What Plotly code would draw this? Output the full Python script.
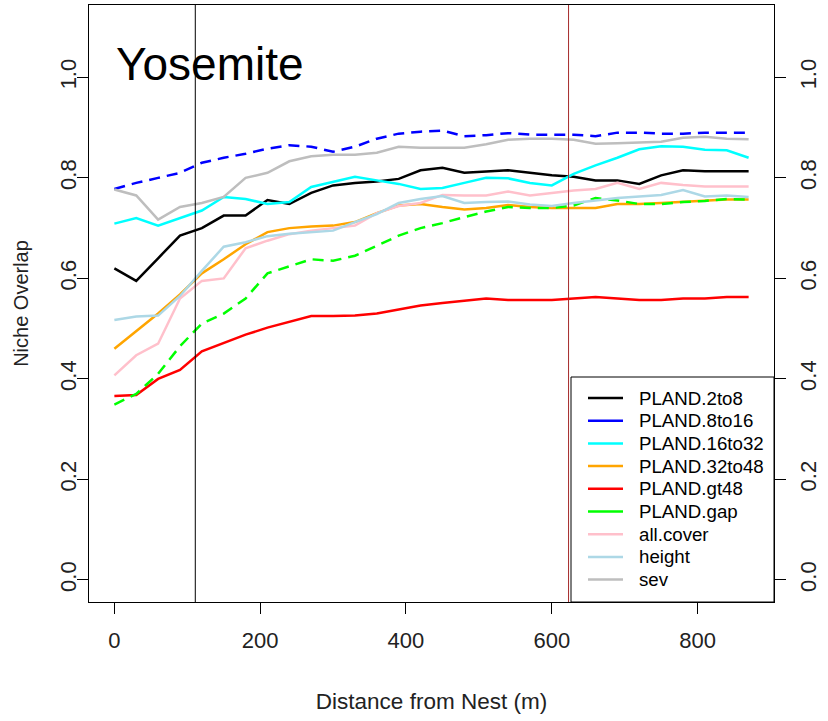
import plotly.graph_objects as go

# ---------------- data ----------------
distance = [0, 30, 60, 90, 120, 150, 180, 210, 240, 270, 300, 330, 360, 390, 420,
            450, 480, 510, 540, 570, 600, 630, 660, 690, 720, 750, 780, 810, 840, 870]

pland_2to8 = [0.620, 0.595, 0.640, 0.685, 0.700, 0.725, 0.725, 0.756, 0.748, 0.770,
              0.785, 0.790, 0.793, 0.798, 0.815, 0.820, 0.810, 0.812, 0.815, 0.810,
              0.805, 0.802, 0.795, 0.795, 0.788, 0.805, 0.815, 0.813, 0.813, 0.813]
pland_8to16 = [0.778, 0.790, 0.800, 0.810, 0.830, 0.840, 0.848, 0.858, 0.865, 0.862,
               0.852, 0.862, 0.878, 0.888, 0.892, 0.894, 0.883, 0.885, 0.889, 0.886,
               0.886, 0.886, 0.883, 0.890, 0.890, 0.888, 0.888, 0.890, 0.890, 0.890]
pland_16to32 = [0.709, 0.720, 0.705, 0.720, 0.735, 0.762, 0.758, 0.748, 0.752, 0.782,
                0.792, 0.802, 0.795, 0.788, 0.778, 0.780, 0.790, 0.800, 0.799, 0.790,
                0.785, 0.808, 0.825, 0.840, 0.857, 0.863, 0.862, 0.856, 0.855, 0.840]
pland_32to48 = [0.460, 0.495, 0.530, 0.568, 0.610, 0.638, 0.668, 0.692, 0.700, 0.703,
                0.705, 0.712, 0.730, 0.745, 0.748, 0.742, 0.737, 0.740, 0.746, 0.742,
                0.740, 0.740, 0.740, 0.748, 0.748, 0.750, 0.752, 0.755, 0.757, 0.757]
pland_gt48 = [0.366, 0.368, 0.400, 0.418, 0.455, 0.472, 0.488, 0.502, 0.513, 0.525,
              0.525, 0.526, 0.530, 0.538, 0.546, 0.551, 0.555, 0.560, 0.557, 0.557,
              0.557, 0.560, 0.563, 0.560, 0.557, 0.557, 0.560, 0.560, 0.563, 0.563]
pland_gap = [0.349, 0.370, 0.410, 0.465, 0.510, 0.530, 0.560, 0.610, 0.624, 0.638,
             0.635, 0.645, 0.665, 0.685, 0.700, 0.710, 0.722, 0.733, 0.742, 0.740,
             0.740, 0.745, 0.760, 0.755, 0.748, 0.748, 0.752, 0.754, 0.758, 0.757]
all_cover = [0.407, 0.447, 0.470, 0.560, 0.595, 0.600, 0.660, 0.675, 0.688, 0.695,
             0.700, 0.705, 0.730, 0.744, 0.750, 0.766, 0.765, 0.765, 0.773, 0.765,
             0.770, 0.775, 0.778, 0.790, 0.778, 0.790, 0.786, 0.783, 0.783, 0.783]
height = [0.517, 0.524, 0.526, 0.565, 0.615, 0.663, 0.672, 0.684, 0.689, 0.692,
          0.695, 0.712, 0.728, 0.750, 0.758, 0.764, 0.750, 0.752, 0.753, 0.747,
          0.744, 0.750, 0.755, 0.760, 0.763, 0.766, 0.776, 0.763, 0.765, 0.762]
sev = [0.777, 0.765, 0.717, 0.742, 0.750, 0.762, 0.800, 0.810, 0.833, 0.843,
       0.846, 0.846, 0.850, 0.862, 0.860, 0.860, 0.860, 0.867, 0.876, 0.878,
       0.878, 0.876, 0.868, 0.869, 0.870, 0.872, 0.880, 0.882, 0.878, 0.877]

series_names = ["PLAND.2to8", "PLAND.8to16", "PLAND.16to32", "PLAND.32to48",
                "PLAND.gt48", "PLAND.gap", "all.cover", "height", "sev"]
series_values = [pland_2to8, pland_8to16, pland_16to32, pland_32to48,
                 pland_gt48, pland_gap, all_cover, height, sev]
series_colors = ["#000000", "#0000FF", "#00FFFF", "#FFA500", "#FF0000",
                 "#00FF00", "#FFC0CB", "#ADD8E6", "#BEBEBE"]
series_dash = ["solid", "11px,7px", "solid", "solid", "solid",
               "11px,7px", "solid", "solid", "solid"]

vline_black = 111
vline_red = 623

y_ticks = [0.0, 0.2, 0.4, 0.6, 0.8, 1.0]
y_tick_labels = ["0.0", "0.2", "0.4", "0.6", "0.8", "1.0"]
x_ticks = [0, 200, 400, 600, 800]
x_tick_labels = ["0", "200", "400", "600", "800"]

# ---------------- figure ----------------
W, H = 828, 721
L, R, T, B = 89, 774, 5, 602  # plot area in pixels
FONT = "Liberation Sans, Arial, sans-serif"

fig = go.Figure()
for name, vals, col, dash in zip(series_names, series_values, series_colors, series_dash):
    fig.add_trace(go.Scatter(x=distance, y=vals, mode="lines", name=name,
                             line=dict(color=col, width=2.5, dash=dash),
                             showlegend=False, hoverinfo="skip"))

# invisible trace for right axis
fig.add_trace(go.Scatter(x=[None], y=[None], yaxis="y2", showlegend=False))


def px(xp):
    return (xp - L) / (R - L)


def py(yp):
    return (B - yp) / (B - T)


shapes = [
    dict(type="line", xref="x", yref="paper", x0=vline_black, x1=vline_black, y0=0, y1=1,
         line=dict(color="black", width=1), layer="above"),
    dict(type="line", xref="x", yref="paper", x0=vline_red, x1=vline_red, y0=0, y1=1,
         line=dict(color="#A52A2A", width=1), layer="above"),
    # legend box
    dict(type="rect", xref="paper", yref="paper", x0=px(571), x1=px(774), y0=0, y1=py(377),
         fillcolor="white", line=dict(color="black", width=1), layer="above"),
]
annotations = [
    dict(text="Yosemite", xref="paper", yref="paper", x=px(114), y=py(64),
         xanchor="left", yanchor="middle", showarrow=False,
         font=dict(family=FONT, size=46, color="black")),
]
row0, step = 398, 22.7
for i, (name, col) in enumerate(zip(series_names, series_colors)):
    yy = py(row0 + i * step)
    shapes.append(dict(type="line", xref="paper", yref="paper", x0=px(588), x1=px(623),
                       y0=yy, y1=yy, line=dict(color=col, width=2.5), layer="above"))
    annotations.append(dict(text=name, xref="paper", yref="paper", x=px(637), y=yy,
                            xanchor="left", yanchor="middle", showarrow=False,
                            font=dict(family=FONT, size=18.7, color="black")))

axis_common = dict(showgrid=False, zeroline=False, ticks="outside", ticklen=11,
                   tickcolor="black", tickwidth=1, showline=True, linecolor="black",
                   linewidth=1, automargin=False,
                   tickfont=dict(family=FONT, size=22, color="#222222"))

fig.update_layout(
    width=W, height=H,
    margin=dict(l=L, r=W - R, t=T, b=H - B),
    paper_bgcolor="white", plot_bgcolor="white",
    showlegend=False,
    font=dict(family=FONT, color="black"),
    xaxis=dict(range=[-34.8, 904.8], tickvals=x_ticks, ticktext=x_tick_labels,
               mirror=True, ticklabelstandoff=8,
               title=dict(text="Distance from Nest (m)", standoff=40,
                          font=dict(family=FONT, size=22.5, color="#222222")),
               **axis_common),
    yaxis=dict(range=[-0.044, 1.144], tickvals=y_ticks, ticktext=y_tick_labels,
               tickangle=-90, mirror=True, ticklabelstandoff=-8,
               title=dict(text="Niche Overlap", standoff=22,
                          font=dict(family=FONT, size=20, color="#222222")),
               **axis_common),
    yaxis2=dict(range=[-0.044, 1.144], tickvals=y_ticks, ticktext=y_tick_labels,
                tickangle=-90, overlaying="y", side="right", ticklabelstandoff=4,
                **axis_common),
    shapes=shapes,
    annotations=annotations,
)

fig.write_html("out.html", config={"displayModeBar": False},
               post_script="document.body.style.margin='0';")
